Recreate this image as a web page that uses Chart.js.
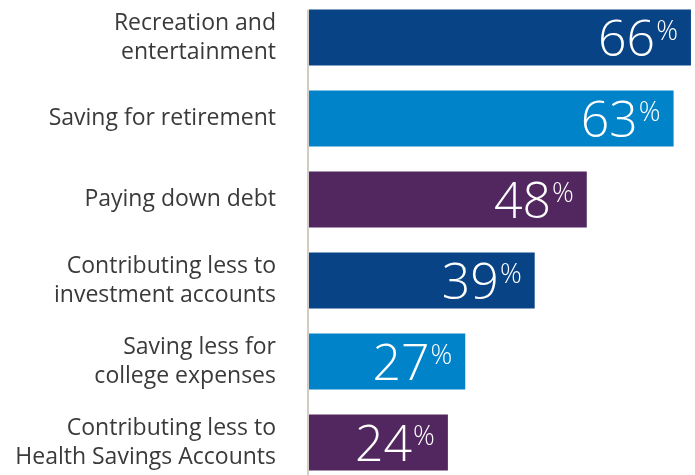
<!DOCTYPE html>
<html>
<head>
<meta charset="utf-8">
<script src="https://cdn.jsdelivr.net/npm/chart.js@4"></script>
<style>
  html, body { margin: 0; padding: 0; background: #ffffff; overflow: hidden; width: 695px; height: 475px; }
  #wrap { position: absolute; left: 0; top: -3px; width: 695px; height: 486px; }
</style>
</head>
<body>
<div id="wrap"><canvas id="c" width="695" height="486"></canvas></div>
<script>
const categories = [
  ["Recreation and", "entertainment"],
  "Saving for retirement",
  "Paying down debt",
  ["Contributing less to", "investment accounts"],
  ["Saving less for", "college expenses"],
  ["Contributing less to", "Health Savings Accounts"]
];
const values = [66, 63, 48, 39, 27, 24];
const barColors = ["#074385", "#0083c8", "#52265f", "#074385", "#0083c8", "#52265f"];

const valueLabels = {
  id: 'valueLabels',
  afterDatasetsDraw(chart) {
    const ctx = chart.ctx;
    const meta = chart.getDatasetMeta(0);
    ctx.save();
    ctx.fillStyle = '#ffffff';
    meta.data.forEach((bar, i) => {
      const v = String(chart.data.datasets[0].data[i]);
      const right = bar.x - 13;
      ctx.font = '300 27px "Open Sans"';
      const pm = ctx.measureText('%');
      const pw = pm.width;
      ctx.font = '300 50px "Open Sans"';
      const m = ctx.measureText(v);
      const asc = m.actualBoundingBoxAscent, desc = m.actualBoundingBoxDescent;
      const base = bar.y + (asc - desc) / 2;
      ctx.textAlign = 'right';
      ctx.textBaseline = 'alphabetic';
      ctx.fillText(v, right - pw - 1, base);
      ctx.font = '300 27px "Open Sans"';
      ctx.fillText('%', right, base - asc + pm.actualBoundingBoxAscent + 1);
    });
    ctx.restore();
  }
};

const axisLine = {
  id: 'axisLine',
  beforeDatasetsDraw(chart) {
    const ctx = chart.ctx;
    const first = chart.getDatasetMeta(0).data[0];
    const x0 = chart.scales.x.getPixelForValue(0);
    ctx.save();
    ctx.strokeStyle = '#d3ccc4';
    ctx.lineWidth = 2;
    ctx.beginPath();
    ctx.moveTo(x0 - 1, first.y - first.height / 2);
    ctx.lineTo(x0 - 1, chart.chartArea.bottom);
    ctx.stroke();
    ctx.restore();
  }
};

new Chart(document.getElementById('c'), {
  type: 'bar',
  data: {
    labels: categories,
    datasets: [{
      data: values,
      backgroundColor: barColors,
      borderWidth: 0,
      barPercentage: 1,
      categoryPercentage: 56 / 81
    }]
  },
  options: {
    indexAxis: 'y',
    responsive: false,
    animation: false,
    devicePixelRatio: 1,
    layout: { padding: 0 },
    plugins: { legend: { display: false }, tooltip: { enabled: false } },
    scales: {
      x: {
        display: false,
        min: 0,
        max: 66.7
      },
      y: {
        afterFit(scale) {
          scale.width = 309;
          scale.paddingTop = 0;
          scale.paddingBottom = 0;
        },
        grid: { display: false, drawTicks: false },
        border: { display: false },
        ticks: {
          padding: 33,
          color: '#3a3a3a',
          font: { family: '"Open Sans"', size: 23, lineHeight: 1.26 }
        }
      }
    }
  },
  plugins: [axisLine, valueLabels]
});
</script>
</body>
</html>
